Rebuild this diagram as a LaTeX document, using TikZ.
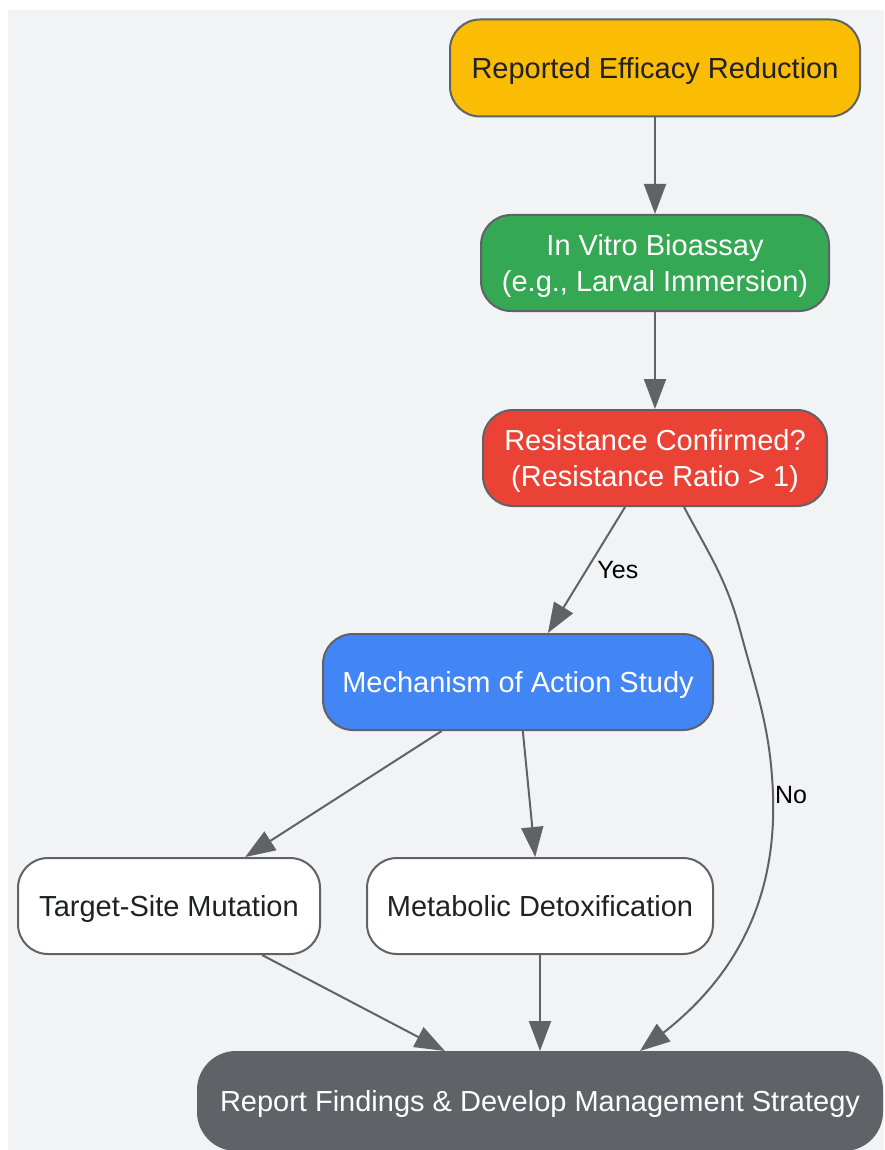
\documentclass[tikz,border=0pt]{standalone}
\usepackage{fontspec}
\setmainfont{Liberation Sans}
\usetikzlibrary{arrows.meta}
\definecolor{bggray}{HTML}{F1F3F4}
\definecolor{edgegray}{HTML}{5F6368}
\definecolor{txtdark}{HTML}{202124}
\definecolor{gyellow}{HTML}{FBBC04}
\definecolor{ggreen}{HTML}{34A853}
\definecolor{gred}{HTML}{EA4335}
\definecolor{gblue}{HTML}{4285F4}
\begin{document}
\begin{tikzpicture}[x=1pt,y=-1pt,
  stepbox/.style={rectangle, rounded corners=30pt, draw=edgegray, line width=2pt,
    minimum height=96pt, align=center, inner sep=0pt,
    text height=21pt, text depth=0pt,
    font=\fontsize{29}{36}\selectfont},
  twoline/.style={text height=57pt},
  flow/.style={draw=edgegray, line width=2pt, -{Triangle[length=30pt,width=22pt]}},
  edgelabel/.style={font=\fontsize{25}{30}\selectfont, text=black, inner sep=0pt}]
\useasboundingbox (0,0) rectangle (884,1150);
\fill [bggray] (8,10) rectangle (884,1150);
% nodes
\node [stepbox, fill=gyellow, text=txtdark, minimum width=410pt, minimum height=97pt] (efficacy) at (655,68) {Reported Efficacy Reduction};
\node [stepbox, twoline, fill=ggreen, text=white, minimum width=348pt] (bioassay) at (655,263) {In Vitro Bioassay\\(e.g., Larval Immersion)};
\node [stepbox, twoline, fill=gred, text=white, minimum width=344pt] (confirmed) at (655,458) {Resistance Confirmed?\\(Resistance Ratio > 1)};
\node [stepbox, fill=gblue, text=white, minimum width=390pt] (mechanism) at (518,682) {Mechanism of Action Study};
\node [stepbox, fill=white, text=txtdark, minimum width=302pt] (targetsite) at (169,906) {Target-Site Mutation};
\node [stepbox, fill=white, text=txtdark, minimum width=346pt] (metabolic) at (540,906) {Metabolic Detoxification};
\node [stepbox, fill=edgegray, text=white, rounded corners=38pt, minimum width=684pt, minimum height=98pt] (report) at (540,1101) {Report Findings \& Develop Management Strategy};
% connectors
\draw [flow] (efficacy) -- (bioassay);
\draw [flow] (bioassay) -- (confirmed);
\draw [flow] (confirmed) -- node [edgelabel, right, xshift=10pt] {Yes} (mechanism);
\draw [flow] ([xshift=29pt]confirmed.south) to[out=-62,in=105] (740,630)
  to[out=-75,in=92] (773,795) node [edgelabel, right, xshift=1pt] {No}
  to[out=-88,in=38] ([xshift=100pt]report.north);
\draw [flow] (mechanism) -- (targetsite);
\draw [flow] (mechanism) -- (metabolic);
\draw [flow] (targetsite) -- (report);
\draw [flow] (metabolic) -- (report);
\end{tikzpicture}
\end{document}
